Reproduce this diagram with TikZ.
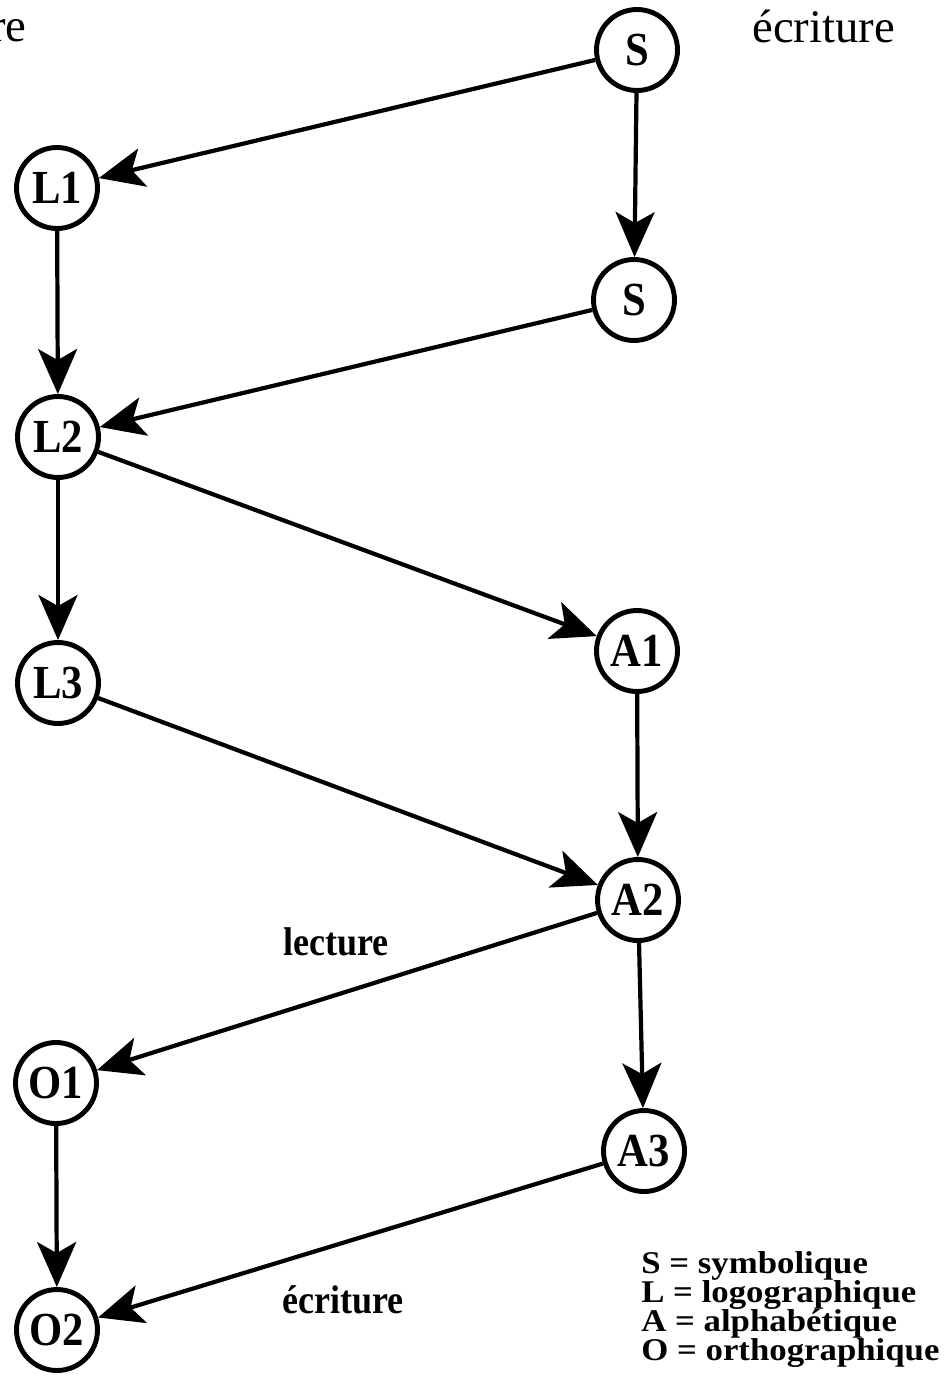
\documentclass[tikz,border=0pt]{standalone}
\usepackage{fontspec}
\setmainfont{Liberation Serif}
\newfontfamily\etroit[FakeStretch=0.9]{Liberation Serif}
\newfontfamily\largi[FakeStretch=1.1]{Liberation Serif}
\usetikzlibrary{arrows.meta}

\begin{document}
\begin{tikzpicture}[x=0.02cm,y=-0.02cm,
  stade/.style={draw,circle,line width=2.8pt,minimum size=1.62cm,inner sep=0pt,
    font=\etroit\bfseries\fontsize{27}{27}\selectfont},
  lien/.style={line width=2.4pt,-{Stealth[length=0.9cm,width=0.78cm,inset=0.22cm]}},
  titre/.style={inner sep=0pt,font=\fontsize{26.6}{26.6}\selectfont},
  sens/.style={inner sep=0pt,anchor=base west,font=\etroit\bfseries\fontsize{22.8}{22.8}\selectfont},
  legende/.style={inner sep=0pt,anchor=base west,font=\largi\bfseries\fontsize{18}{18}\selectfont}]
  \useasboundingbox (0,0) rectangle (952,1378);

  % Stades
  \node[stade] (S1) at (637,50)   {S};
  \node[stade] (L1) at (57,188)   {L1};
  \node[stade] (S2) at (634,300)  {S};
  \node[stade] (L2) at (58,437)   {L2};
  \node[stade] (A1) at (637,651)  {A1};
  \node[stade] (L3) at (58,683)   {L3};
  \node[stade] (A2) at (638,900)  {A2};
  \node[stade] (O1) at (56,1083)  {O1};
  \node[stade] (A3) at (644,1151) {A3};
  \node[stade] (O2) at (57,1330)  {O2};

  % Liens
  \draw[lien] (S1) -- (L1);
  \draw[lien] (S1) -- (S2);
  \draw[lien] (L1) -- (L2);
  \draw[lien] (S2) -- (L2);
  \draw[lien] (L2) -- (L3);
  \draw[lien] (L2) -- (A1);
  \draw[lien] (A1) -- (A2);
  \draw[lien] (L3) -- (A2);
  \draw[lien] (A2) -- (O1);
  \draw[lien] (A2) -- (A3);
  \draw[lien] (O1) -- (O2);
  \draw[lien] (A3) -- (O2);

  % Textes
  \node[titre,anchor=base east] (re) at (27,42) {re};
  \node[titre,anchor=base west] (ecrhaut) at (752,43) {écriture};
  \node[sens] (lect) at (283,955) {lecture};
  \node[sens] (ecrbas) at (282,1313) {écriture};

  % Legende
  \node[legende] (legS) at (641,1273) {S = symbolique};
  \node[legende] (legL) at (641,1302) {L = logographique};
  \node[legende] (legA) at (641,1331) {A = alphabétique};
  \node[legende] (legO) at (641,1360) {O = orthographique};
\end{tikzpicture}
\end{document}
